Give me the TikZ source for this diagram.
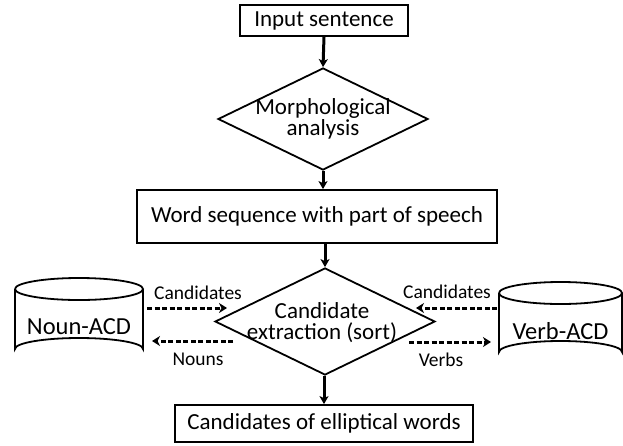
\documentclass[tikz,border=0pt]{standalone}
\usepackage{fontspec}
\setmainfont{Carlito}
\usetikzlibrary{shapes.geometric,arrows.meta}
\tikzset{
  box/.style={draw, line width=1.8pt, inner sep=0pt, font=\fontsize{23}{24}\selectfont},
  dia/.style={draw, diamond, line width=1.8pt, inner sep=0pt},
  diatext/.style={align=center, inner sep=0pt, font=\fontsize{23}{19}\selectfont},
  flow/.style={line width=3pt, -{Stealth[length=8pt,width=9pt,inset=2pt]}},
  dflow/.style={line width=3pt, dash pattern=on 5pt off 2.5pt, -{Stealth[length=8pt,width=10pt,inset=2.5pt]}},
  lab/.style={inner sep=0pt, font=\fontsize{19.5}{20}\selectfont},
  dbtext/.style={inner sep=0pt, font=\fontsize{24.5}{26}\selectfont},
  cyl/.style={line width=1.8pt}
}
\begin{document}
\begin{tikzpicture}[x=1pt,y=-1pt]
\useasboundingbox (0,0) rectangle (623,445);
% nodes
\node[box, minimum width=168pt, minimum height=31pt] (in) at (324,20.5) {Input sentence};
\node[dia, minimum width=210pt, minimum height=102pt] (m1) at (323,119) {};
\node[diatext] (m1t) at (323,119) {Morphological\\analysis};
\node[box, minimum width=360pt, minimum height=53pt] (ws) at (317,216.5) {Word sequence with part of speech};
\node[dia, minimum width=220pt, minimum height=107pt] (m2) at (325,321.5) {};
\node[diatext, font=\fontsize{23}{21}\selectfont] (m2t) at (322,323) {Candidate\\extraction (sort)};
\node[box, minimum width=298pt, minimum height=37pt] (out) at (324,423.5) {Candidates of elliptical words};
% cylinders
\draw[cyl] (15,289) arc[start angle=180, end angle=-180, x radius=64, y radius=11]
  (15,289) -- (15,349) arc[start angle=180, end angle=360, x radius=64, y radius=11] -- (143,289);
\node[dbtext] (noun) at (79,327) {Noun-ACD};
\draw[cyl] (499,293) arc[start angle=180, end angle=-180, x radius=61.5, y radius=11]
  (499,293) -- (499,352) arc[start angle=180, end angle=360, x radius=61.5, y radius=11] -- (622,293);
\node[dbtext] (verb) at (560.5,331) {Verb-ACD};
% main arrows
\draw[flow] (in.south) -- (m1.north);
\draw[flow] (m1.south) -- (ws.north -| m1.south);
\draw[flow] (ws.south -| m2.north) -- (m2.north);
\draw[flow] (m2.south -| out.north) -- (out.north);
% dashed arrows
\coordinate (n1a) at (147,308); \coordinate (n1b) at (227,308);
\coordinate (n2a) at (233,341); \coordinate (n2b) at (152,341);
\coordinate (v1a) at (497,308); \coordinate (v1b) at (416,308);
\coordinate (v2a) at (409,342); \coordinate (v2b) at (491,342);
\draw[dflow] (n1a) -- (n1b);
\draw[dflow] (n2a) -- (n2b);
\draw[dflow] (v1a) -- (v1b);
\draw[dflow] (v2a) -- (v2b);
\node[lab] (l1) at (198,293) {Candidates};
\node[lab] (l2) at (198,359) {Nouns};
\node[lab] (l3) at (447,292) {Candidates};
\node[lab] (l4) at (441,360) {Verbs};
\end{tikzpicture}
\end{document}
